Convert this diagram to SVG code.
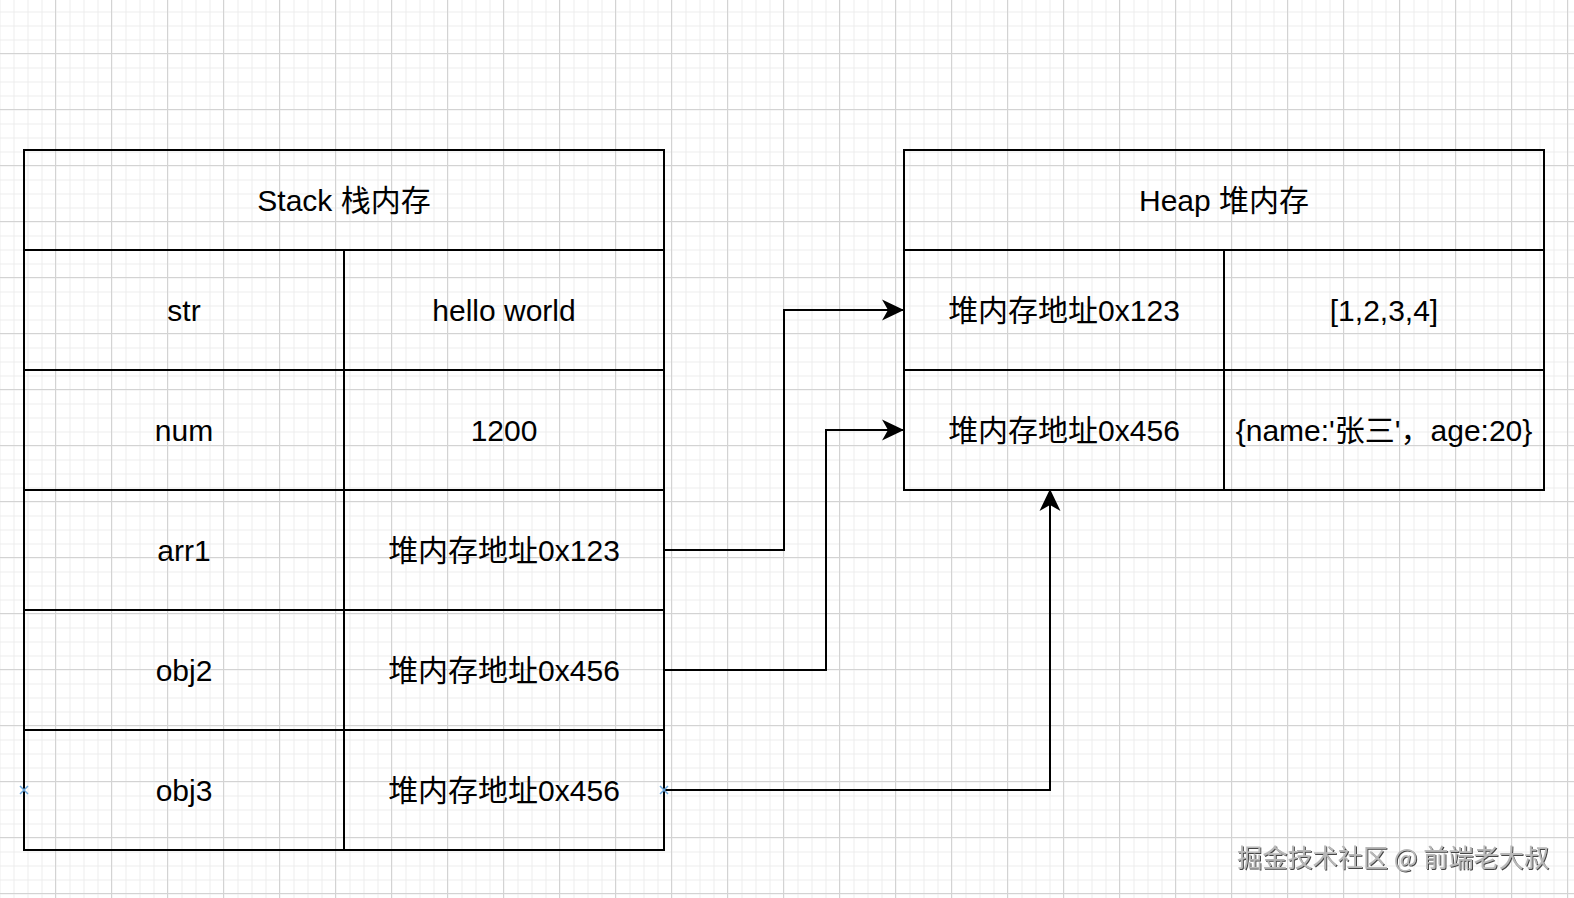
<svg xmlns="http://www.w3.org/2000/svg" width="1574" height="898" viewBox="0 0 1574 898">
<style>
.cell{fill:none;stroke:#000;stroke-width:2}
.t{font-family:"Liberation Sans","Noto Sans CJK SC",Arial,sans-serif;font-size:30px;fill:#000;text-anchor:middle}
.conn{fill:none;stroke:#000;stroke-width:2}
.pt{stroke:#6aa6dc;stroke-width:1.5;fill:none}
.wm{font-family:"Noto Sans CJK SC","Liberation Sans",sans-serif;font-size:25.2px;fill:#b8b8b8}
</style>
<defs>
<pattern id="minor" width="14" height="14" patternUnits="userSpaceOnUse" x="55.5" y="53.5">
<path d="M0 0.5H14M0.5 0V14" stroke="#ececec" stroke-width="1" fill="none"/>
</pattern>
<pattern id="major" width="56" height="56" patternUnits="userSpaceOnUse" x="55" y="53">
<path d="M0 0.5H56M0.5 0V56" stroke="#d3d3d3" stroke-width="1" fill="none"/>
</pattern>
<marker id="arrow" markerUnits="userSpaceOnUse" markerWidth="24" markerHeight="24" viewBox="0 0 24 24" refX="22" refY="12" orient="auto">
<path d="M0 1.5L22 12L0 22.5L6 12Z" fill="#000"/>
</marker>
<filter id="emboss" x="-5%" y="-30%" width="110%" height="160%">
<feDropShadow dx="1" dy="1" stdDeviation="0.6" flood-color="#333" flood-opacity="0.9"/>
</filter>
</defs>
<rect width="1574" height="898" fill="#fff"/>
<rect width="1574" height="898" fill="url(#minor)"/>
<rect width="1574" height="898" fill="url(#major)"/>

<g id="stack">
<g id="stack-header"><rect class="cell" x="24" y="150" width="640" height="100"/><text class="t" x="344" y="211">Stack 栈内存</text></g>
<g id="stack-str"><rect class="cell" x="24" y="250" width="320" height="120"/><text class="t" x="184" y="321">str</text></g>
<g id="stack-str-val"><rect class="cell" x="344" y="250" width="320" height="120"/><text class="t" x="504" y="321">hello world</text></g>
<g id="stack-num"><rect class="cell" x="24" y="370" width="320" height="120"/><text class="t" x="184" y="441">num</text></g>
<g id="stack-num-val"><rect class="cell" x="344" y="370" width="320" height="120"/><text class="t" x="504" y="441">1200</text></g>
<g id="stack-arr1"><rect class="cell" x="24" y="490" width="320" height="120"/><text class="t" x="184" y="561">arr1</text></g>
<g id="stack-arr1-val"><rect class="cell" x="344" y="490" width="320" height="120"/><text class="t" x="504" y="561">堆内存地址0x123</text></g>
<g id="stack-obj2"><rect class="cell" x="24" y="610" width="320" height="120"/><text class="t" x="184" y="681">obj2</text></g>
<g id="stack-obj2-val"><rect class="cell" x="344" y="610" width="320" height="120"/><text class="t" x="504" y="681">堆内存地址0x456</text></g>
<g id="stack-obj3"><rect class="cell" x="24" y="730" width="320" height="120"/><text class="t" x="184" y="801">obj3</text></g>
<g id="stack-obj3-val"><rect class="cell" x="344" y="730" width="320" height="120"/><text class="t" x="504" y="801">堆内存地址0x456</text></g>
</g>

<g id="heap">
<g id="heap-header"><rect class="cell" x="904" y="150" width="640" height="100"/><text class="t" x="1224" y="211">Heap 堆内存</text></g>
<g id="heap-addr1"><rect class="cell" x="904" y="250" width="320" height="120"/><text class="t" x="1064" y="321">堆内存地址0x123</text></g>
<g id="heap-val1"><rect class="cell" x="1224" y="250" width="320" height="120"/><text class="t" x="1384" y="321">[1,2,3,4]</text></g>
<g id="heap-addr2"><rect class="cell" x="904" y="370" width="320" height="120"/><text class="t" x="1064" y="441">堆内存地址0x456</text></g>
<g id="heap-val2"><rect class="cell" x="1224" y="370" width="320" height="120"/><text class="t" x="1384" y="441">{name:'张三'，age:20}</text></g>
</g>

<g id="connectors">
<path class="conn" d="M664 550H784V310H904" marker-end="url(#arrow)"/>
<path class="conn" d="M664 670H826V430H904" marker-end="url(#arrow)"/>
<path class="conn" d="M664 790H1050V489" marker-end="url(#arrow)"/>
</g>

<g id="points">
<path class="pt" d="M20 786L28 794M28 786L20 794"/>
<path class="pt" d="M660 786L668 794M668 786L660 794"/>
</g>

<text class="wm" x="1237" y="867" filter="url(#emboss)">掘金技术社区 @ 前端老大叔</text>
</svg>
